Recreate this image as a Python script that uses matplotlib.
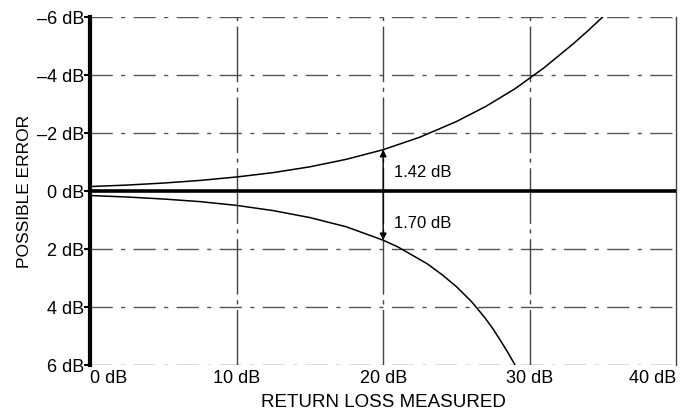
import matplotlib.pyplot as plt

# values (return loss measured vs possible error, dB)
upper_rl = [0, 2.5, 5, 7.5, 10, 12.5, 15, 17.5, 20, 22.5, 25, 27, 29, 31, 33, 34, 35]
upper_err = [-0.15, -0.20, -0.27, -0.36, -0.48, -0.63, -0.83, -1.09, -1.42, -1.85,
             -2.39, -2.91, -3.52, -4.25, -5.08, -5.53, -6.0]

lower_rl = [0, 2.5, 5, 7.5, 10, 12.5, 15, 17.5, 20, 21, 22, 23, 24, 25, 26, 26.5,
            27, 27.5, 28, 28.5, 29]
lower_err = [0.16, 0.21, 0.28, 0.37, 0.50, 0.68, 0.92, 1.24, 1.70, 1.93, 2.22, 2.51,
             2.88, 3.30, 3.80, 4.10, 4.41, 4.76, 5.15, 5.56, 6.0]

x_ticks = [0, 10, 20, 30, 40]
x_labels = ["0 dB", "10 dB", "20 dB", "30 dB", "40 dB"]
y_ticks = [-6, -4, -2, 0, 2, 4, 6]
y_labels = ["\u20136 dB", "\u20134 dB", "\u20132 dB", "0 dB", "2 dB", "4 dB", "6 dB"]

mark_rl = 20
mark_up = -1.42
mark_down = 1.70

plt.rcParams["font.family"] = ["Liberation Sans", "DejaVu Sans"]

fig = plt.figure(figsize=(6.83, 4.14), dpi=100, facecolor="white")
ax = fig.add_axes([0.132, 0.116, 0.858, 0.841])

ax.set_xlim(0, 40)
ax.set_ylim(6, -6)

# broken-looking grid like the scanned original
for yv in [-6, -4, -2, 2, 4, 6]:
    ax.axhline(yv, color="#555555", linewidth=1.0, linestyle=(0, (16, 6, 3, 6)), zorder=1)
for xv in [10, 20, 30]:
    ax.axvline(xv, color="#444444", linewidth=1.0, linestyle=(0, (40, 4, 3, 4)), zorder=1)

ax.axhline(0, color="black", linewidth=2.6, zorder=3)

ax.plot(upper_rl, upper_err, color="black", linewidth=1.1, zorder=4)
ax.plot(lower_rl, lower_err, color="black", linewidth=1.1, zorder=4)

ax.annotate("", xy=(mark_rl, mark_up), xytext=(mark_rl, 0),
            arrowprops=dict(arrowstyle="-|>", color="black", lw=1.0,
                            mutation_scale=10, shrinkA=0, shrinkB=0), zorder=5)
ax.annotate("", xy=(mark_rl, mark_down), xytext=(mark_rl, 0),
            arrowprops=dict(arrowstyle="-|>", color="black", lw=1.0,
                            mutation_scale=10, shrinkA=0, shrinkB=0), zorder=5)
ax.text(mark_rl + 0.75, -0.68, f"{abs(mark_up):.2f} dB", fontsize=12, va="center", ha="left")
ax.text(mark_rl + 0.75, 1.1, f"{mark_down:.2f} dB", fontsize=12, va="center", ha="left")

for side in ["top", "bottom"]:
    ax.spines[side].set_visible(False)
ax.spines["left"].set_linewidth(3.0)
ax.spines["right"].set_linewidth(1.0)
ax.spines["right"].set_color("#444444")

ax.set_xticks(x_ticks, x_labels, fontsize=13)
ax.set_yticks(y_ticks, y_labels, fontsize=13)
for lab, ha in zip(ax.get_xticklabels(), ["left", "center", "center", "center", "right"]):
    lab.set_ha(ha)
ax.tick_params(axis="x", length=0, pad=3)
ax.tick_params(axis="y", length=4, width=1.5, pad=0)

ax.set_xlabel("RETURN LOSS MEASURED", fontsize=13.5, labelpad=5)
ax.set_ylabel("POSSIBLE ERROR", fontsize=12.5, labelpad=4)

fig.savefig("out.png", dpi=100, facecolor="white")
